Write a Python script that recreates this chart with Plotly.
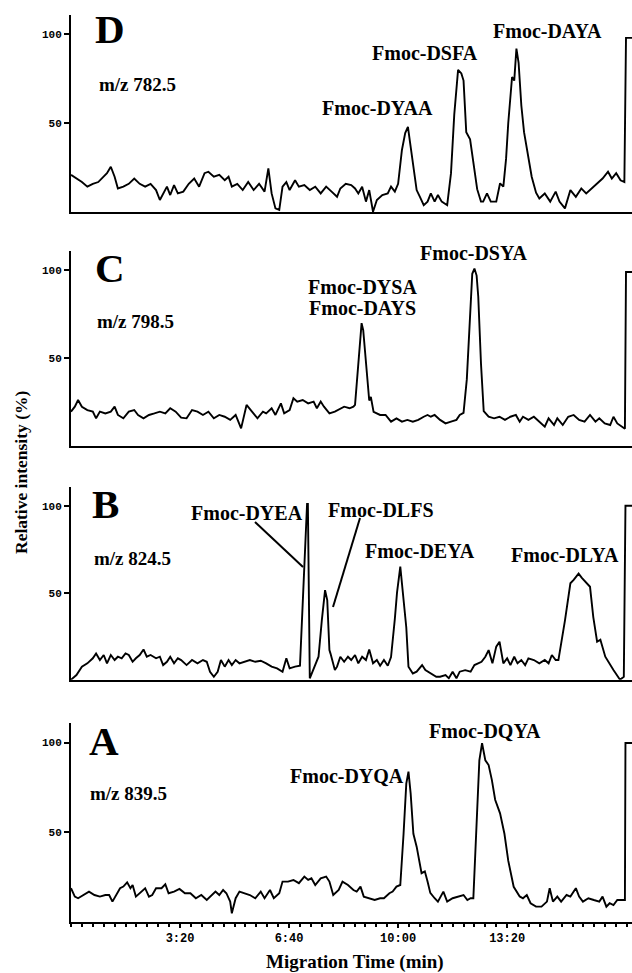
import plotly.graph_objects as go

W, H = 632, 973

# ---------------- data (time in s, relative intensity in %) ----------------
t_D = [0, 10, 20, 30, 40, 50, 56, 66, 73, 80,
       86, 96, 106, 116, 126, 136, 146, 156, 163, 169,
       176, 182, 189, 196, 206, 216, 226, 235, 245, 252,
       262, 272, 282, 289, 295, 305, 315, 325, 335, 345,
       355, 362, 368, 375, 382, 388, 395, 401, 411, 418,
       428, 438, 448, 458, 468, 478, 488, 494, 504, 514,
       521, 527, 534, 541, 547, 554, 561, 571, 581, 587,
       594, 600, 607, 613, 618, 622, 628, 634, 640, 647,
       654, 660, 667, 673, 680, 690, 697, 703, 710, 716,
       720, 725, 732, 738, 745, 752, 756, 763, 770, 780,
       787, 793, 798, 802, 809, 813, 817, 821, 826, 831,
       839, 845, 853, 859, 869, 879, 889, 896, 906, 916,
       926, 936, 945, 955, 965, 975, 985, 992, 1000, 1008,
       1015, 1018, 1029]
v_D = [21, 19, 17, 14.4, 16, 17, 19, 22, 25.6, 20,
       13.4, 14.4, 16, 19, 16, 14.4, 16, 12.5, 6.9, 10.6,
       14.4, 9.7, 15.3, 10.6, 11.6, 16, 19, 14.4, 22, 22.8,
       20, 21, 18, 20, 14.4, 16, 12.5, 17, 12.5, 16,
       11.6, 24.7, 10.6, 2.2, 1.3, 14.4, 17, 12.5, 18, 14.4,
       15.3, 12.5, 14.4, 10.6, 14.4, 11.6, 8.7, 13.4, 16, 15.3,
       13.4, 10.6, 14.4, 6, 12.5, 0.3, 6.9, 9.7, 10.6, 14.4,
       11.6, 16, 35, 44.5, 48, 39, 25.6, 12.5, 8.7, 4,
       6, 10.6, 6, 9.7, 6, 4, 22, 55, 80, 78,
       74, 45, 41, 27, 13, 6, 6, 10.6, 6, 6,
       16.3, 14.4, 30, 50, 76, 74, 92, 84, 60, 45,
       31, 20, 11, 7.8, 10.6, 6, 11.6, 6, 2.2, 12.5,
       8.7, 13.4, 10.6, 13.4, 16, 19, 22.8, 19, 22, 18,
       17, 98, 98]

t_C = [0, 7, 13, 20, 30, 40, 46, 53, 63, 73,
       80, 86, 96, 106, 116, 123, 133, 143, 153, 163,
       173, 182, 192, 202, 212, 222, 232, 242, 252, 262,
       272, 282, 292, 302, 312, 322, 332, 342, 352, 358,
       368, 375, 385, 391, 401, 408, 415, 425, 435, 445,
       451, 458, 464, 474, 484, 494, 501, 511, 518, 521,
       527, 533, 536, 543, 547, 550, 555, 567, 577, 587,
       597, 607, 617, 627, 637, 647, 654, 660, 667, 677,
       687, 697, 707, 713, 720, 726, 732, 736, 740, 744,
       747, 752, 757, 766, 776, 786, 796, 806, 816, 823,
       829, 839, 849, 859, 869, 876, 886, 892, 902, 912,
       922, 932, 942, 952, 962, 969, 979, 989, 995, 1002,
       1012, 1016, 1018, 1029]
v_C = [19.7, 22.5, 26.3, 22.5, 20.6, 19.7, 15.9, 19.7, 18.7, 19.7,
       22.5, 17.8, 15.9, 19.7, 20.6, 17.8, 15.9, 17.8, 18.7, 19.7,
       18.7, 21.6, 19.7, 16.3, 15.9, 20.6, 19.7, 17.8, 19.7, 15.9,
       17.8, 16.8, 15, 17.8, 10.2, 23.5, 19.7, 15.9, 19.7, 18.7,
       21.6, 17.8, 24.4, 18.7, 20.6, 27.3, 25.4, 26.3, 24.4, 25.4,
       21.6, 25.4, 22.5, 18.7, 19.7, 21.6, 22.5, 21.6, 22.5, 23.5,
       47, 70, 66, 37.7, 26, 28, 19.6, 17.8, 17.8, 14,
       15.9, 14, 15, 14, 15, 16.8, 17.8, 16.8, 17.8, 15,
       13, 14, 15, 17.8, 19, 38, 76, 98, 101, 97,
       85, 47, 20, 16.8, 15.9, 16.8, 15, 16.8, 17.8, 14,
       16.8, 15, 16.8, 14, 11.2, 15.9, 12.1, 15.9, 12.1, 16.8,
       17.8, 15, 14, 17.8, 14, 15.9, 13, 12.1, 16.8, 13,
       11.2, 10, 99, 99]

t_B = [0, 10, 20, 30, 40, 46, 53, 60, 66, 73,
       80, 86, 93, 100, 106, 113, 119, 126, 133, 139,
       146, 156, 163, 169, 176, 182, 189, 196, 202, 212,
       222, 232, 242, 249, 255, 262, 269, 275, 282, 289,
       295, 302, 309, 318, 328, 338, 348, 358, 368, 378,
       388, 395, 401, 411, 420, 433, 434.5, 438, 445, 454,
       460, 466, 470, 474, 476, 484, 488, 494, 501, 508,
       514, 521, 527, 534, 541, 547, 554, 561, 567, 574,
       581, 587, 594, 598, 604, 610, 615, 619, 627, 634,
       644, 650, 660, 670, 677, 687, 693, 700, 707, 713,
       723, 733, 740, 746, 753, 760, 766, 773, 780, 786,
       793, 800, 806, 813, 819, 826, 833, 839, 849, 859,
       869, 876, 882, 889, 894, 906, 916, 922, 931, 937,
       946, 952, 958, 965, 971, 980, 995, 1007, 1014, 1017,
       1029]
v_B = [0, 2.7, 7.5, 9.4, 12.3, 15.1, 11.3, 14.2, 9.4, 14.2,
       11.3, 13.2, 12.3, 15.1, 14.2, 10.3, 12.3, 14.2, 17.4, 13.2,
       14.2, 12.3, 13.2, 8.4, 10.3, 13.2, 9.4, 12.3, 11.3, 8.4,
       11.3, 9.4, 11.3, 10.3, 4.6, 1.7, 4.6, 11.3, 7.5, 11.3,
       8.4, 11.3, 9.4, 10.3, 11.3, 10.3, 10.9, 9.4, 7.5, 6.5,
       4.6, 12.3, 6.5, 7.5, 8, 101, 101, 0.8, 6.7, 13.2,
       34, 51.5, 45.8, 17, 15, 5.6, 7.5, 13.2, 10.3, 13.2,
       11.3, 14.2, 9.4, 13.2, 11.3, 17.4, 9.4, 11.3, 8, 11.3,
       8, 13, 35, 50, 65, 46, 30, 7.5, 3.6, 4.6,
       8.4, 5.5, 3.6, 1.7, 1.7, 2.7, 0.8, 4.6, 0.8, 4.6,
       5.5, 4.6, 8.4, 9.4, 10.3, 13.2, 17, 9.4, 19, 21.8,
       9.4, 12.3, 8.4, 13.2, 9.4, 11.3, 8.4, 12.3, 11.3, 9.4,
       11.3, 9.4, 14.2, 11.3, 11.3, 34, 55.4, 57.4, 61, 58.5,
       55.4, 53.4, 36, 21.8, 23, 13.2, 5.6, 0, 1.7, 100,
       100]

t_A = [0, 7, 13, 23, 33, 43, 53, 63, 70, 76,
       83, 90, 96, 103, 109, 113, 119, 126, 136, 143,
       149, 156, 166, 173, 179, 189, 199, 209, 219, 229,
       239, 249, 259, 265, 272, 279, 285, 292, 295, 302,
       309, 318, 328, 338, 348, 355, 365, 372, 382, 388,
       398, 408, 418, 428, 435, 441, 448, 458, 468, 474,
       481, 491, 498, 508, 518, 524, 531, 537, 547, 557,
       567, 574, 584, 590, 597, 604, 610, 615, 619, 623,
       628, 634, 643, 649, 654, 659, 667, 673, 683, 690,
       700, 710, 720, 727, 733, 738, 744, 749, 754, 760,
       766, 772, 778, 787, 795, 802, 812, 823, 829, 836,
       843, 853, 863, 873, 878, 884, 892, 899, 909, 916,
       926, 932, 939, 949, 959, 969, 975, 982, 988, 995,
       1002, 1009, 1016, 1017, 1029]
v_A = [18.6, 13.9, 13, 14.8, 16.7, 14.8, 13.9, 14.8, 14.8, 11.1,
       14.8, 18.6, 19.5, 21.9, 18.6, 20.4, 13.9, 15.8, 18.6, 13.9,
       14.8, 18.6, 18.6, 20.8, 15.8, 16.7, 18.2, 15.8, 15.8, 13,
       14.8, 12, 14.8, 16.7, 14.8, 17.6, 15.8, 11.1, 4.6, 13,
       16.7, 15.8, 14.8, 13, 16.7, 13, 17.6, 13, 15.8, 22.3,
       22.3, 23.2, 21.4, 25.1, 23.2, 24.1, 20.4, 24.1, 25.1, 22.3,
       14.8, 17.6, 22.3, 20.4, 17.6, 16.7, 19.5, 13.9, 13, 12,
       13, 13, 15.8, 16.7, 19.5, 20.4, 49, 77, 83.7, 71.6,
       49, 41.8, 27, 28, 22.3, 16, 13, 11.1, 16.7, 11.1,
       13, 13.9, 14.8, 12, 13, 13, 58, 90, 99.6, 90,
       87.4, 79, 68, 60.4, 49, 34, 19.4, 14, 13, 14.8,
       10.2, 8.3, 8.3, 11.1, 18.6, 11.1, 13.9, 11.1, 14.8, 13.9,
       18.6, 13.9, 11.1, 13, 12, 11.1, 13.9, 8.3, 10.2, 9.2,
       12, 12, 12, 99.7, 99.7]

panel_letters = ["D", "C", "B", "A"]
mz_labels = ["m/z 782.5", "m/z 798.5", "m/z 824.5", "m/z 839.5"]
x_tick_vals = [200, 400, 600, 800]
x_tick_text = ["3:20", "6:40", "10:00", "13:20"]
y_tick_vals = [50, 100]
y_tick_text = ["50", "100"]

# ---------------- layout helpers ----------------
def px(x):
    return x / W

def py(y):
    return 1 - y / H

SERIF = "Liberation Serif, Times New Roman, serif"
MONO = "Liberation Mono, Courier New, monospace"

# panel geometry: (baseline pixel, pixels per % unit)
geom = [(212.3, 1.78), (446.3, 1.76), (679.7, 1.74), (921.5, 1.79)]
series = [(t_D, v_D), (t_C, v_C), (t_B, v_B), (t_A, v_A)]
YMAX = 111
XMAX = 1029

fig = go.Figure()
layout = dict(
    width=W, height=H, margin=dict(l=0, r=0, t=0, b=0),
    paper_bgcolor="white", plot_bgcolor="white", showlegend=False,
)

for i, ((tt, vv), (base, ppu)) in enumerate(zip(series, geom)):
    suf = "" if i == 0 else str(i + 1)
    fig.add_trace(go.Scatter(
        x=tt, y=vv, mode="lines",
        line=dict(color="black", width=1.9),
        xaxis="x" + suf, yaxis="y" + suf, hoverinfo="skip",
    ))
    top = base - YMAX * ppu
    bottom_panel = (i == 3)
    xa = dict(
        domain=[px(71), 1.0], range=[0, XMAX], anchor="y" + suf,
        showline=True, linecolor="black", linewidth=2,
        showgrid=False, zeroline=False,
    )
    if bottom_panel:
        xa.update(
            tickmode="array", tickvals=x_tick_vals, ticktext=x_tick_text,
            ticks="outside", ticklen=4, tickwidth=1.5, tickcolor="black",
            tickfont=dict(family=MONO, size=12, color="black", weight="bold"),
            minor=dict(tickmode="linear", tick0=0, dtick=20, ticks="outside",
                       ticklen=3, tickwidth=1.5, tickcolor="black", showgrid=False),
        )
    else:
        xa.update(ticks="", showticklabels=False)
    ya = dict(
        domain=[py(base), py(top)], range=[0, YMAX], anchor="x" + suf,
        showline=True, linecolor="black", linewidth=2,
        showgrid=False, zeroline=False,
        tickmode="array", tickvals=y_tick_vals, ticktext=y_tick_text,
        ticks="outside", ticklen=5, tickwidth=1.5, tickcolor="black",
        tickfont=dict(family=MONO, size=11, color="black", weight="bold"),
    )
    layout["xaxis" + suf] = xa
    layout["yaxis" + suf] = ya

fig.update_layout(**layout)

def note(text, x, y, size, xanchor="center"):
    fig.add_annotation(
        text=text, x=px(x), y=py(y), xref="paper", yref="paper",
        showarrow=False, xanchor=xanchor, yanchor="middle",
        font=dict(family=SERIF, size=size, color="black", weight="bold"),
    )

# panel letters and m/z labels (left edge positions in px)
letter_pos = [(93, 29), (93, 268), (90, 504), (87, 741)]
mz_pos = [(97, 85), (95, 321), (92, 558), (88, 793)]
for letter, (lx, ly) in zip(panel_letters, letter_pos):
    note(letter, lx, ly, 41, xanchor="left")
for lab, (mx, my) in zip(mz_labels, mz_pos):
    note(lab, mx, my, 19, xanchor="left")

# peak labels
peak_labels = [
    ("Fmoc-DYAA", 377.5, 108), ("Fmoc-DSFA", 424.5, 53), ("Fmoc-DAYA", 547, 31),
    ("Fmoc-DYSA", 362, 287), ("Fmoc-DAYS", 362, 308), ("Fmoc-DSYA", 473.5, 253),
    ("Fmoc-DYEA", 247, 513), ("Fmoc-DLFS", 380.5, 510), ("Fmoc-DEYA", 420, 551),
    ("Fmoc-DLYA", 565, 555),
    ("Fmoc-DYQA", 346.5, 776), ("Fmoc-DQYA", 485, 731),
]
for lab, lx, ly in peak_labels:
    note(lab, lx, ly, 20)

# leader lines in panel B
for (x0, y0, x1, y1) in [(255, 522, 303, 567), (360, 518, 333, 607)]:
    fig.add_shape(type="line", xref="paper", yref="paper",
                  x0=px(x0), y0=py(y0), x1=px(x1), y1=py(y1),
                  line=dict(color="black", width=2))

# axis titles
note("Migration Time (min)", 355, 962, 19)
fig.add_annotation(
    text="Relative intensity (%)", x=px(21), y=py(473), xref="paper", yref="paper",
    showarrow=False, textangle=-90, xanchor="center", yanchor="middle",
    font=dict(family=SERIF, size=17.5, color="black", weight="bold"),
)

fig.write_html("out.html")
